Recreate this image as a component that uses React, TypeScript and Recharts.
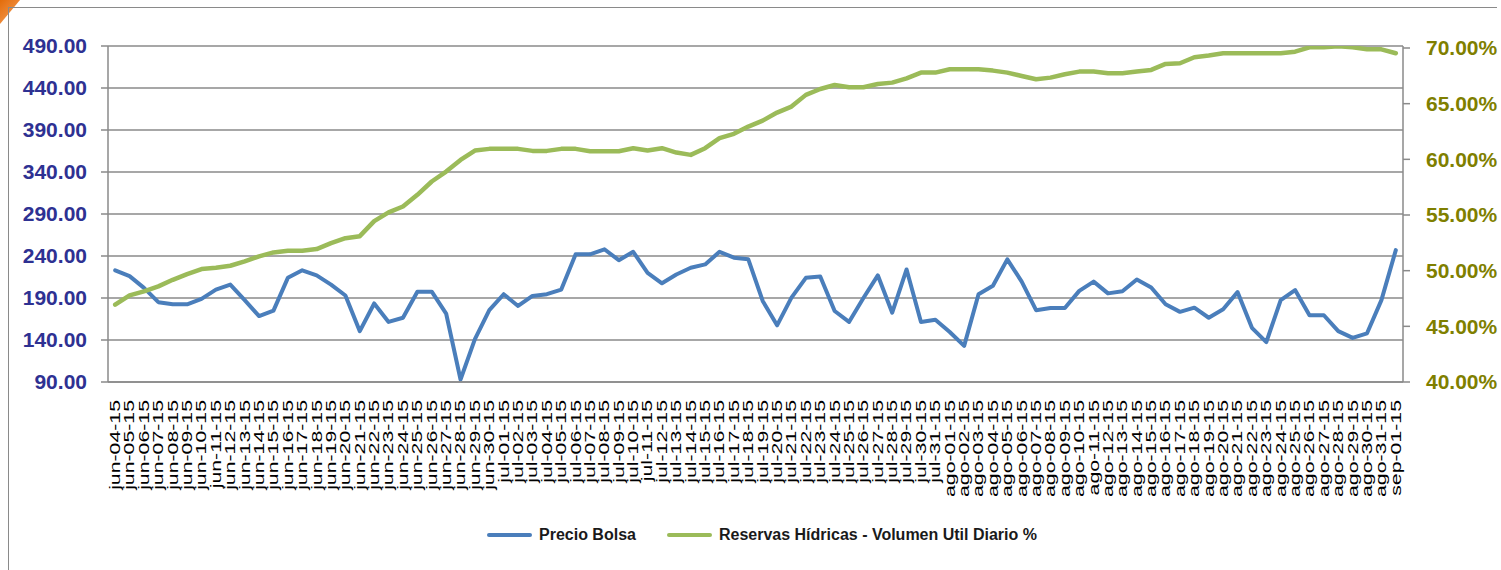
import React from 'react';
import { LineChart, Line, XAxis, YAxis, CartesianGrid, Legend } from 'recharts';

const fechas: string[] = [
  'jun-04-15','jun-05-15','jun-06-15','jun-07-15','jun-08-15','jun-09-15','jun-10-15','jun-11-15','jun-12-15','jun-13-15',
  'jun-14-15','jun-15-15','jun-16-15','jun-17-15','jun-18-15','jun-19-15','jun-20-15','jun-21-15','jun-22-15','jun-23-15',
  'jun-24-15','jun-25-15','jun-26-15','jun-27-15','jun-28-15','jun-29-15','jun-30-15',
  'jul-01-15','jul-02-15','jul-03-15','jul-04-15','jul-05-15','jul-06-15','jul-07-15','jul-08-15','jul-09-15','jul-10-15',
  'jul-11-15','jul-12-15','jul-13-15','jul-14-15','jul-15-15','jul-16-15','jul-17-15','jul-18-15','jul-19-15','jul-20-15',
  'jul-21-15','jul-22-15','jul-23-15','jul-24-15','jul-25-15','jul-26-15','jul-27-15','jul-28-15','jul-29-15','jul-30-15','jul-31-15',
  'ago-01-15','ago-02-15','ago-03-15','ago-04-15','ago-05-15','ago-06-15','ago-07-15','ago-08-15','ago-09-15','ago-10-15',
  'ago-11-15','ago-12-15','ago-13-15','ago-14-15','ago-15-15','ago-16-15','ago-17-15','ago-18-15','ago-19-15','ago-20-15',
  'ago-21-15','ago-22-15','ago-23-15','ago-24-15','ago-25-15','ago-26-15','ago-27-15','ago-28-15','ago-29-15','ago-30-15','ago-31-15',
  'sep-01-15',
];

const precioBolsa: number[] = [
  223, 216, 202, 185, 182.5, 182.5, 189, 200, 206, 187.5,
  168.5, 175, 214, 223, 217, 206, 193, 150.5, 183.5, 161.5,
  166.5, 197.5, 197.5, 171.5, 93, 141, 175.5,
  194.5, 180.5, 192.5, 194.5, 200, 242, 242, 248, 235, 245,
  220, 207.5, 218, 226, 230, 245, 238, 236, 186.5, 157.5,
  190.5, 214, 215.5, 174.5, 161.5, 190, 217, 172.5, 224, 161.5, 164,
  149.5, 133, 194.5, 204.5, 236, 209.5, 175.5, 178, 178, 198.5,
  209.5, 195.5, 198, 212, 202.5, 182.5, 173.5, 178.5, 166.5, 176.5,
  197, 154.5, 137.5, 187.5, 199.5, 169.5, 169.5, 150.5, 142.5, 148, 187.5,
  247,
];

const reservasHidricas: number[] = [
  46.94, 47.78, 48.14, 48.59, 49.18, 49.69, 50.14, 50.26, 50.44, 50.83,
  51.28, 51.64, 51.79, 51.79, 51.94, 52.47, 52.92, 53.1, 54.45, 55.23,
  55.76, 56.81, 58.01, 58.9, 59.95, 60.79, 60.94,
  60.94, 60.94, 60.76, 60.76, 60.94, 60.94, 60.73, 60.73, 60.73, 61.0,
  60.79, 61.0, 60.61, 60.4, 61.0, 61.9, 62.29, 62.94, 63.48, 64.2,
  64.74, 65.79, 66.32, 66.68, 66.47, 66.47, 66.77, 66.89, 67.28, 67.79, 67.79,
  68.09, 68.09, 68.09, 67.97, 67.79, 67.49, 67.19, 67.34, 67.64, 67.88,
  67.88, 67.73, 67.73, 67.88, 68.03, 68.57, 68.63, 69.17, 69.32, 69.52,
  69.52, 69.52, 69.52, 69.52, 69.67, 70.06, 70.06, 70.15, 70.06, 69.88, 69.88,
  69.53,
];

const leftTicks: number[] = [90, 140, 190, 240, 290, 340, 390, 440, 490];
const rightTicks: number[] = [40, 45, 50, 55, 60, 65, 70];

const data = fechas.map((f, i) => ({
  fecha: f,
  precio: precioBolsa[i],
  reservas: reservasHidricas[i],
}));

const boundaryTicks: number[] = [...fechas.map((_, i) => i), fechas.length];

const FONT = "'Liberation Sans', Arial, sans-serif";
const GRID = '#8a8a8a';

const XTick = (props: any) => {
  const { x, y, payload } = props;
  return (
    <text
      transform={`translate(${x},${y}) rotate(-90) scale(1.52,1)`}
      textAnchor="end"
      dy="0.35em"
      fontSize={14}
      fontFamily={FONT}
      fill="#000"
    >
      {payload.value}
    </text>
  );
};

const renderLegend = (props: any) => {
  const { payload } = props;
  return (
    <div
      style={{
        display: 'flex',
        alignItems: 'center',
        paddingLeft: 487,
        height: 22,
        fontFamily: FONT,
        fontSize: 16,
        fontWeight: 'bold',
        color: '#1a1a1a',
      }}
    >
      {(payload || []).map((e: any, i: number) => (
        <div key={i} style={{ display: 'flex', alignItems: 'center', marginRight: 31 }}>
          <span
            style={{
              display: 'inline-block',
              width: 45,
              height: 4,
              background: e.color,
              borderRadius: 2,
              marginRight: 7,
            }}
          />
          <span>{e.value}</span>
        </div>
      ))}
    </div>
  );
};

export default function App() {
  return (
    <div
      style={{
        position: 'absolute',
        left: 0,
        top: 0,
        width: 1501,
        height: 570,
        background: '#fff',
        overflow: 'hidden',
        fontFamily: FONT,
      }}
    >
      <div
        style={{
          position: 'absolute',
          left: 0,
          top: 0,
          width: 20,
          height: 24,
          background: 'linear-gradient(135deg, #E36C0A 0%, #F7A25E 100%)',
          clipPath: 'polygon(0 0, 100% 0, 0 100%)',
        }}
      />
      <div
        style={{
          position: 'absolute',
          left: 8,
          top: 7,
          width: 1489,
          height: 570,
          borderTop: `1.5px solid ${GRID}`,
          borderLeft: `1.5px solid ${GRID}`,
          boxSizing: 'border-box',
        }}
      />
      <div style={{ position: 'absolute', left: 0, top: 0 }}>
        <LineChart
          width={1501}
          height={570}
          data={data}
          margin={{ top: 46, right: 0, bottom: 0, left: 8 }}
        >
          <CartesianGrid
            yAxisId="left"
            vertical={false}
            stroke={GRID}
            strokeWidth={1.5}
          />
          <XAxis
            xAxisId="marks"
            type="number"
            domain={[0, fechas.length]}
            ticks={boundaryTicks}
            interval={0}
            tick={false}
            height={0}
            tickSize={7}
            axisLine={{ stroke: GRID, strokeWidth: 1.5 }}
            tickLine={{ stroke: GRID, strokeWidth: 1.5 }}
            allowDataOverflow
          />
          <XAxis
            xAxisId="cat"
            dataKey="fecha"
            interval={0}
            height={188}
            tickSize={0}
            tickMargin={18}
            padding={{ left: 7.19, right: 7.19 }}
            tick={<XTick />}
            axisLine={{ stroke: GRID, strokeWidth: 1.5 }}
            tickLine={false}
          />
          <YAxis
            yAxisId="left"
            orientation="left"
            width={100}
            domain={[90, 490]}
            ticks={leftTicks}
            interval={0}
            tickSize={7}
            tickMargin={14}
            tickFormatter={(v: number) => v.toFixed(2)}
            tick={{ fill: '#2E3192', fontSize: 21, fontWeight: 'bold', fontFamily: FONT }}
            axisLine={{ stroke: GRID, strokeWidth: 1.5 }}
            tickLine={{ stroke: GRID, strokeWidth: 1.5 }}
          />
          <YAxis
            yAxisId="right"
            orientation="right"
            width={98}
            domain={[40, 70.18]}
            ticks={rightTicks}
            interval={0}
            allowDataOverflow
            tickSize={7}
            tickMargin={16}
            tickFormatter={(v: number) => v.toFixed(2) + '%'}
            tick={{ fill: '#7F7F00', fontSize: 21, fontWeight: 'bold', fontFamily: FONT }}
            axisLine={{ stroke: GRID, strokeWidth: 1.5 }}
            tickLine={{ stroke: GRID, strokeWidth: 1.5 }}
          />
          <Legend
            verticalAlign="middle"
            align="center"
            content={renderLegend}
            wrapperStyle={{ position: 'absolute', top: 524, left: 0, width: 1501, height: 22 }}
          />
          <Line
            xAxisId="cat"
            yAxisId="left"
            type="linear"
            dataKey="precio"
            name="Precio Bolsa"
            stroke="#4A7EBB"
            strokeWidth={4}
            strokeLinejoin="round"
            strokeLinecap="round"
            dot={false}
            activeDot={false}
            isAnimationActive={false}
          />
          <Line
            xAxisId="cat"
            yAxisId="right"
            type="linear"
            dataKey="reservas"
            name="Reservas Hídricas - Volumen Util Diario %"
            stroke="#9BBB59"
            strokeWidth={4.5}
            strokeLinejoin="round"
            strokeLinecap="round"
            dot={false}
            activeDot={false}
            isAnimationActive={false}
          />
        </LineChart>
      </div>
    </div>
  );
}
